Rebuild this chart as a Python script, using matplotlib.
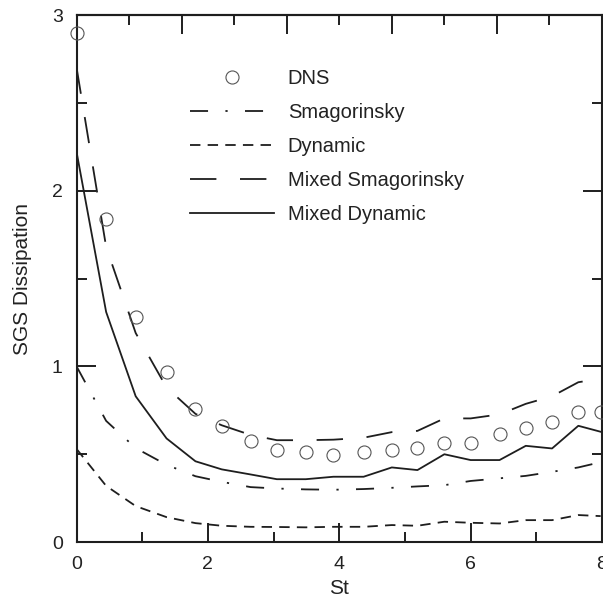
import matplotlib
matplotlib.use("Agg")
import matplotlib.pyplot as plt
from matplotlib.ticker import MultipleLocator, NullFormatter

plt.rcParams['font.family'] = ['Liberation Sans', 'DejaVu Sans']
plt.rcParams['lines.scale_dashes'] = False

# Stokes number grid (shared by all series)
st = [0.0, 0.45, 0.90, 1.37, 1.81, 2.21, 2.65, 3.05, 3.49, 3.91,
      4.37, 4.80, 5.19, 5.60, 6.00, 6.44, 6.84, 7.24, 7.64, 7.98]

dns = [2.90, 1.84, 1.28, 0.97, 0.76, 0.66, 0.575, 0.524, 0.514, 0.495,
       0.514, 0.524, 0.533, 0.562, 0.562, 0.615, 0.647, 0.681, 0.738, 0.742]

smagorinsky = [1.00, 0.69, 0.535, 0.44, 0.375, 0.343, 0.313, 0.305, 0.300, 0.298,
               0.302, 0.309, 0.317, 0.324, 0.348, 0.363, 0.377, 0.400, 0.425, 0.455]

dynamic = [0.53, 0.32, 0.205, 0.142, 0.108, 0.093, 0.087, 0.086, 0.084, 0.087,
           0.087, 0.097, 0.093, 0.116, 0.110, 0.106, 0.125, 0.125, 0.154, 0.148]

mixed_smagorinsky = [2.70, 1.68, 1.19, 0.88, 0.73, 0.665, 0.61, 0.58, 0.58, 0.583,
                     0.594, 0.626, 0.633, 0.704, 0.704, 0.727, 0.787, 0.83, 0.91, 0.93]

mixed_dynamic = [2.22, 1.31, 0.83, 0.59, 0.46, 0.414, 0.385, 0.358, 0.358, 0.372,
                 0.372, 0.425, 0.41, 0.50, 0.467, 0.467, 0.548, 0.533, 0.662, 0.628]

labels = ['DNS', 'Smagorinsky', 'Dynamic', 'Mixed Smagorinsky', 'Mixed Dynamic']
x_label = 'St'
y_label = 'SGS Dissipation'

ink = '#1e1e1e'
txt = '#222222'

fig = plt.figure(figsize=(6.03, 6.01), dpi=100)
ax = fig.add_axes([0.127, 0.098, 0.8713, 0.877])

ax.plot(st, dns, linestyle='none', marker='o', markersize=9.4,
        markerfacecolor='none', markeredgecolor='#555555', markeredgewidth=0.8,
        clip_on=False, label=labels[0], zorder=3)
l1, = ax.plot(st, smagorinsky, color=ink, lw=1.3, label=labels[1])
l1.set_dashes([13, 12.5, 1.6, 12.5])
l2, = ax.plot(st, dynamic, color=ink, lw=1.3, label=labels[2])
l2.set_dashes([7.5, 5.2])
l3, = ax.plot(st, mixed_smagorinsky, color=ink, lw=1.3, label=labels[3])
l3.set_dashes([19, 17])
ax.plot(st, mixed_dynamic, color=ink, lw=1.3, label=labels[4])

ax.set_xlim(0, 8)
ax.set_ylim(0, 3)
ax.xaxis.set_major_locator(MultipleLocator(2))
ax.xaxis.set_minor_locator(MultipleLocator(1))
ax.yaxis.set_major_locator(MultipleLocator(1))
ax.yaxis.set_minor_locator(MultipleLocator(0.5))

for s in ax.spines.values():
    s.set_linewidth(1.5)
    s.set_color(ink)

ax.tick_params(which='both', direction='in', bottom=True, left=True, right=True,
               top=False, colors=ink, labelcolor=txt, labelsize=14, pad=10)
ax.tick_params(which='major', length=13.5, width=1.4)
ax.tick_params(which='minor', length=7, width=1.4)

# top axis with its own tick spacing (no labels)
top = ax.secondary_xaxis('top')
top.xaxis.set_major_locator(MultipleLocator(1.6))
top.xaxis.set_minor_locator(MultipleLocator(0.8))
top.xaxis.set_major_formatter(NullFormatter())
top.tick_params(which='both', direction='in', colors=ink)
top.tick_params(which='major', length=13.5, width=1.4)
top.tick_params(which='minor', length=7, width=1.4)
top.spines['top'].set_linewidth(1.5)

ax.set_xlabel(x_label, fontsize=15, color=txt, labelpad=4)
ax.set_ylabel(y_label, fontsize=15, color=txt, labelpad=14)

ax.legend(loc='upper left', bbox_to_anchor=(0.216, 0.898), frameon=False,
          fontsize=14.5, handlelength=4.15, handletextpad=0.7, labelspacing=0.75,
          numpoints=1, borderpad=0, borderaxespad=0, labelcolor=txt)

fig.savefig('out.png', dpi=100)
